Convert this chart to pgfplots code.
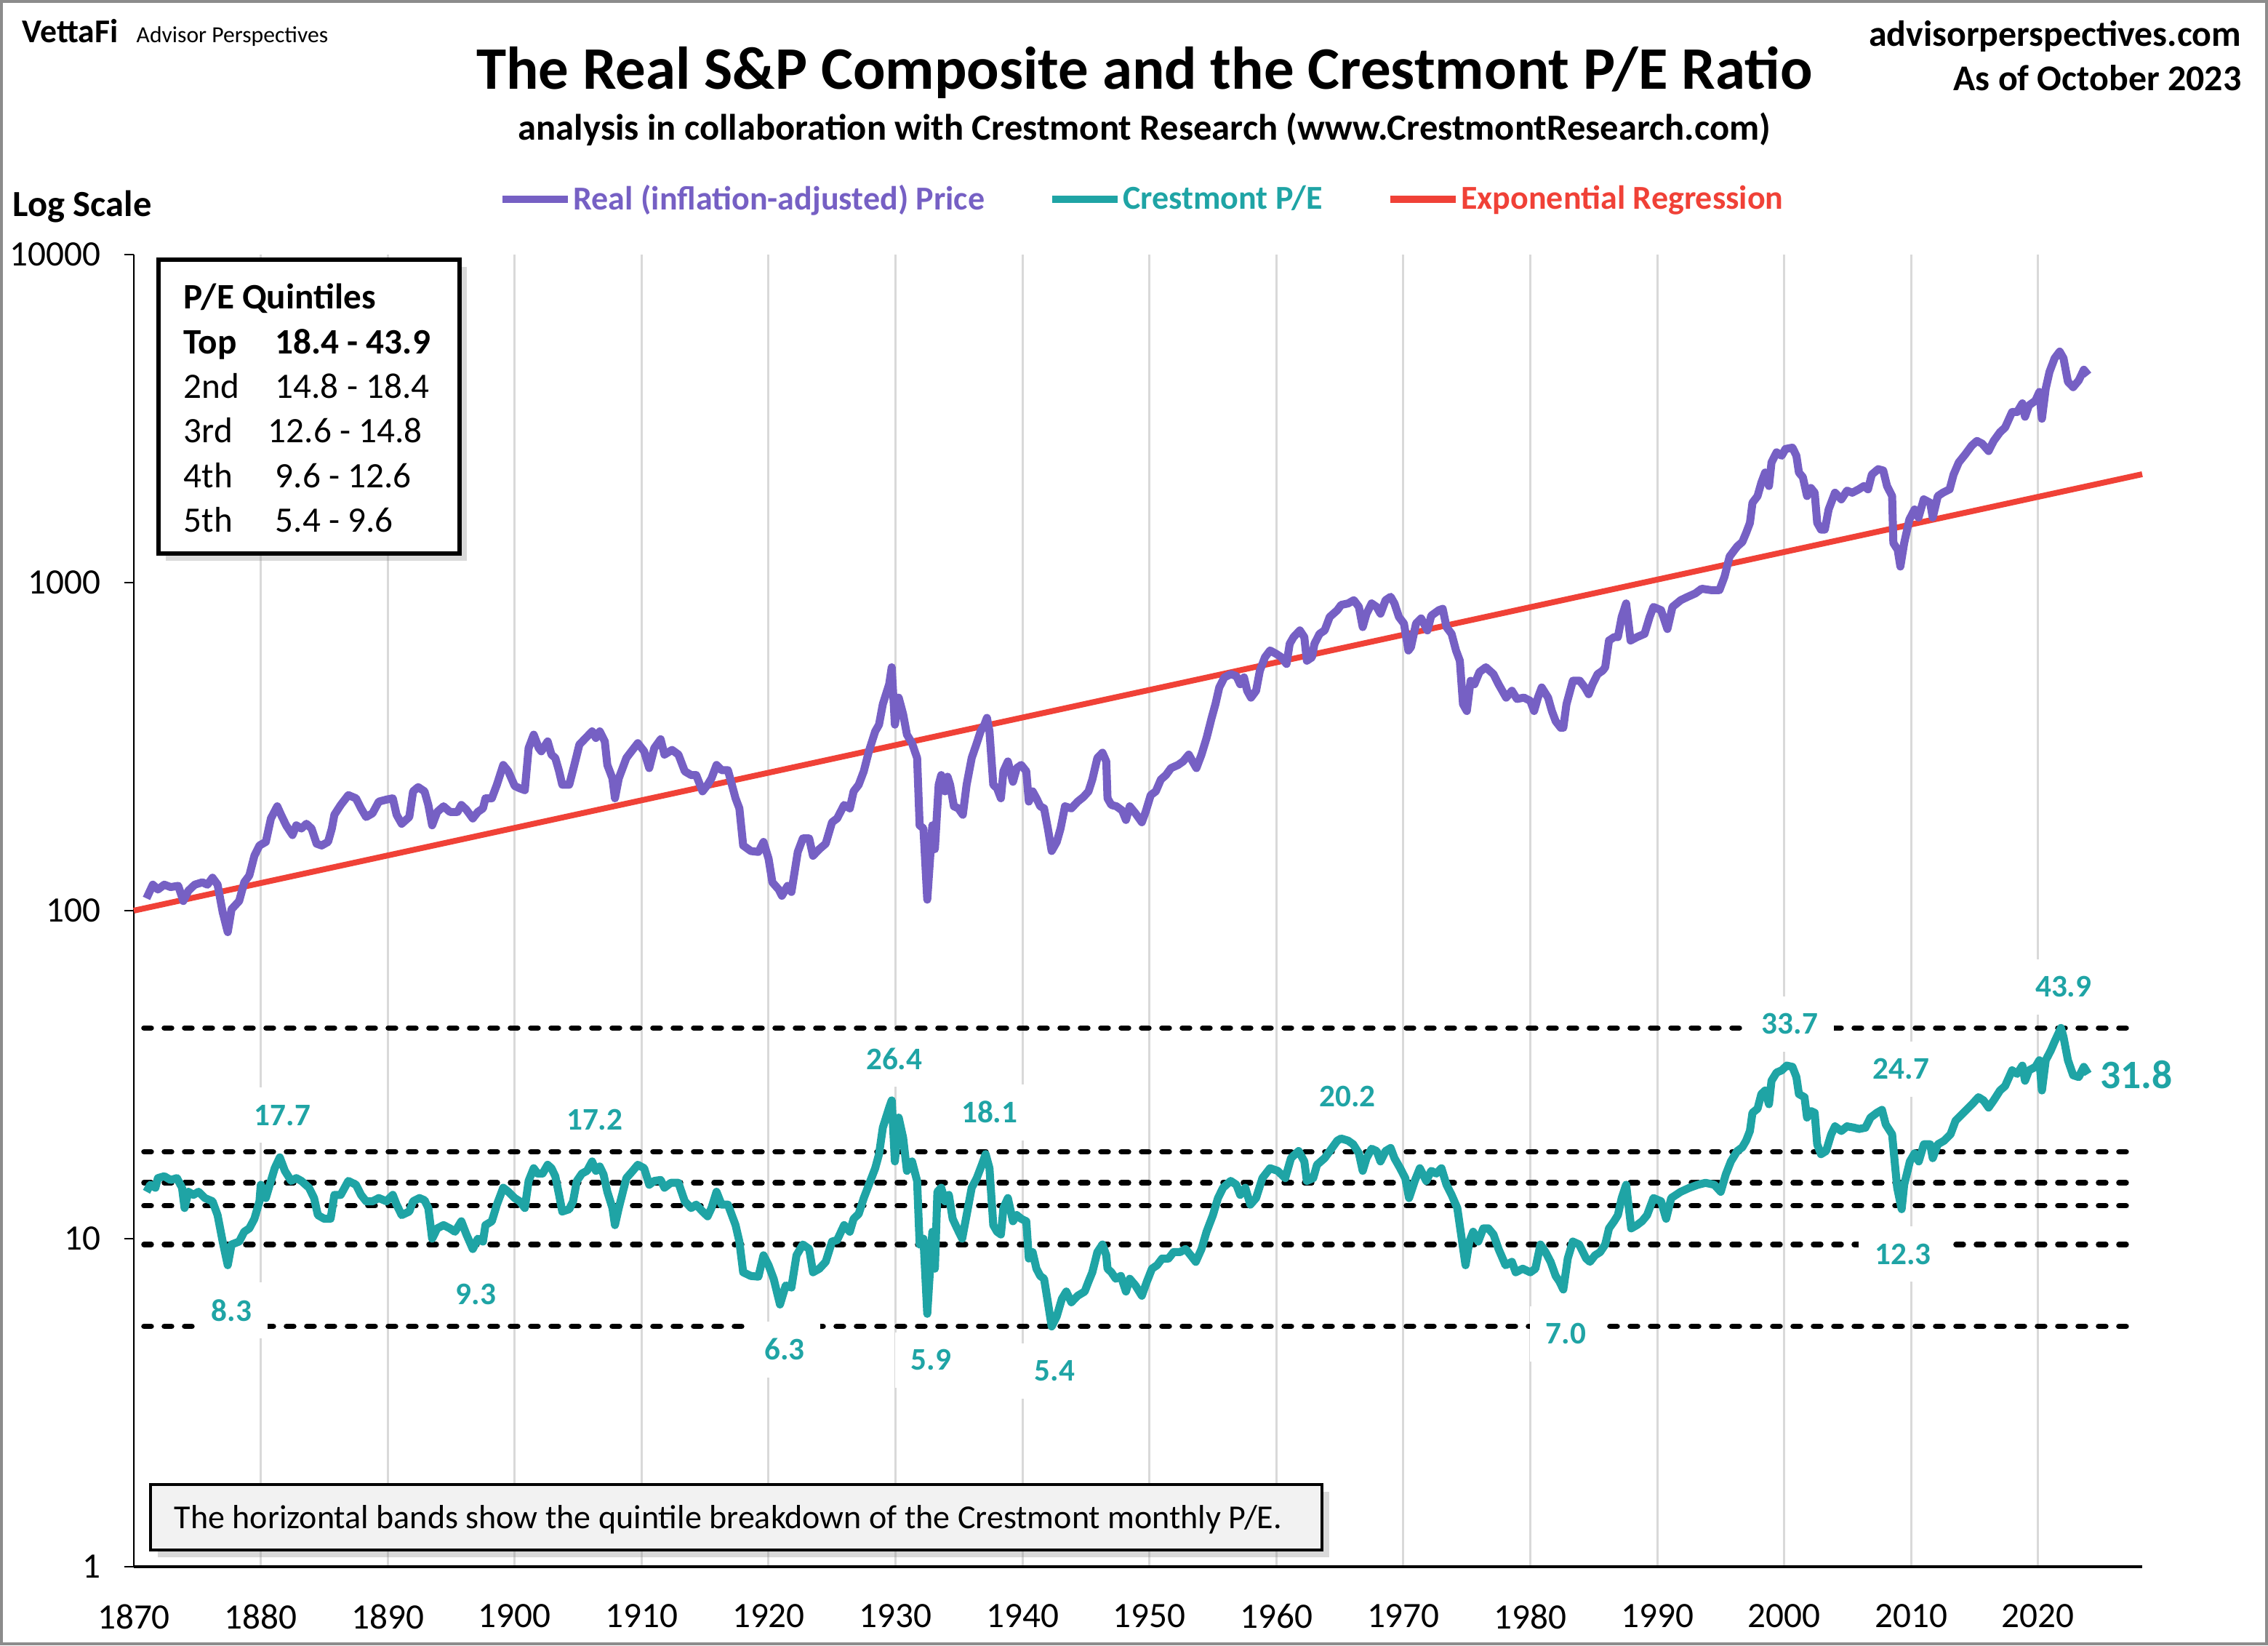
\documentclass[border=0pt]{standalone}
\usepackage{pgfplots}
\pgfplotsset{compat=1.18}
\usepackage{fontspec}
\setmainfont{Carlito}
\usetikzlibrary{shadows}
\definecolor{pur}{RGB}{118,96,196}
\definecolor{tealc}{RGB}{31,164,165}
\definecolor{redl}{RGB}{240,65,55}
\definecolor{gridc}{RGB}{217,217,217}
\definecolor{framec}{RGB}{140,140,140}
\definecolor{notefill}{RGB}{242,242,242}
\tikzset{lab/.style={fill=white, text=tealc, font=\bfseries\fontsize{12.3}{14}\selectfont, inner xsep=2.2mm, inner ysep=2.35mm}}
\tikzset{band/.style={black, line width=0.75mm, line cap=round, dash pattern=on 1.0mm off 1.8mm}}
\begin{document}
\begin{tikzpicture}
\useasboundingbox (0,0) rectangle (311.9mm,226.2mm);
\draw[framec, line width=0.4mm] (0.2mm,0.2mm) rectangle (311.7mm,226.0mm);
\begin{axis}[
  at={(18.4mm,10.8mm)}, anchor=south west,
  scale only axis, width=276.2mm, height=180.4mm,
  xmin=1870, xmax=2028.2, ymin=1, ymax=10000, ymode=log, log basis y=10,
  axis x line*=bottom, axis y line*=left,
  x axis line style={line width=0.45mm,-},
  y axis line style={line width=0.25mm,-},
  xtick={1870,1880,1890,1900,1910,1920,1930,1940,1950,1960,1970,1980,1990,2000,2010,2020},
  xticklabels={1870,1880,1890,1900,1910,1920,1930,1940,1950,1960,1970,1980,1990,2000,2010,2020},
  ytick={1,10,100,1000,10000},
  yticklabels={1,10,100,1000,10000},
  xmajorgrids, major x grid style={gridc, line width=0.3mm},
  tick align=outside, major tick length=1.3mm,
  xtick style={draw=none},
  ytick style={black, line width=0.25mm},
  /pgf/number format/assume math mode=true,
  tick label style={font=\fontsize{14}{16}\selectfont},
  xticklabel style={anchor=north, inner sep=0pt, yshift=-3.8mm},
  yticklabel style={anchor=east, inner sep=0pt, xshift=-3.2mm},
  clip=false,
  legend columns=3,
  legend style={at={(0.502,1.042)}, anchor=center, draw=none, fill=none,
    font=\bfseries\fontsize{13.1}{15}\selectfont,
    /tikz/every even column/.append style={column sep=8.5mm},
    nodes={inner sep=0.25mm}},
  legend image code/.code={\draw[#1] (0mm,0mm) -- (9mm,0mm);},
]
\addlegendimage{pur, line width=1.0mm}
\addlegendentry{\textcolor{pur}{Real (inflation-adjusted) Price}}
\addlegendimage{tealc, line width=1.0mm}
\addlegendentry{\textcolor{tealc}{Crestmont P/E}}
\addlegendimage{redl, line width=1.0mm}
\addlegendentry{\textcolor{redl}{Exponential Regression}}

% quintile bands
\addplot[band, forget plot] coordinates {(1870.8,43.9) (2027.2,43.9)};
\addplot[band, forget plot] coordinates {(1870.8,18.4) (2027.2,18.4)};
\addplot[band, forget plot] coordinates {(1870.8,14.8) (2027.2,14.8)};
\addplot[band, forget plot] coordinates {(1870.8,12.6) (2027.2,12.6)};
\addplot[band, forget plot] coordinates {(1870.8,9.6) (2027.2,9.6)};
\addplot[band, forget plot] coordinates {(1870.8,5.4) (2027.2,5.4)};

% value labels
\node[lab] at (axis cs:1881.7,23.8) {17.7};
\node[lab] at (axis cs:1877.7,6.05) {8.3};
\node[lab] at (axis cs:1896.95,6.76) {9.3};
\node[lab] at (axis cs:1906.3,23.1) {17.2};
\node[lab] at (axis cs:1921.25,4.6) {6.3};
\node[lab] at (axis cs:1929.9,35.3) {26.4};
\node[lab] at (axis cs:1932.8,4.27) {5.9};
\node[lab] at (axis cs:1937.4,24.3) {18.1};
\node[lab] at (axis cs:1942.55,3.95) {5.4};
\node[lab] at (axis cs:1965.6,27.1) {20.2};
\node[lab] at (axis cs:1982.8,5.13) {7.0};
\node[lab] at (axis cs:2000.45,45.1) {33.7};
\node[lab] at (axis cs:2009.2,32.9) {24.7};
\node[lab] at (axis cs:2009.35,8.98) {12.3};
\node[lab] at (axis cs:2022.0,58.6) {43.9};
\node[anchor=west, inner sep=0pt, text=tealc, font=\bfseries\fontsize{15.8}{18}\selectfont] at (axis cs:2024.85,31.6) {31.8};

% regression
\addplot[forget plot, redl, line width=0.8mm] coordinates {(1870,100) (2028.2,2140)};

% real price
\addplot[forget plot, pur, line width=1.1mm, line join=round] coordinates {
(1871.0,109) (1871.5,120) (1871.9,116) (1872.4,120) (1872.9,118) (1873.5,119) (1873.9,107) (1874.3,115) (1874.8,120) (1875.4,122) (1875.8,120) (1876.2,126) (1876.6,120) (1877.0,99) (1877.4,86) (1877.7,101) (1878.3,107) (1878.7,122) (1879.1,128) (1879.5,147) (1879.9,158) (1880.4,162) (1880.8,191) (1881.3,208) (1881.6,196) (1882.0,182) (1882.5,170) (1882.8,182) (1883.2,178) (1883.6,184) (1884.0,178) (1884.4,160) (1884.8,158) (1885.3,162) (1885.6,178) (1885.8,196) (1886.3,210) (1886.9,225) (1887.5,220) (1887.9,205) (1888.3,193) (1888.8,198) (1889.3,215) (1889.9,218) (1890.4,220) (1890.7,196) (1891.1,184) (1891.7,193) (1892.0,231) (1892.4,238) (1892.9,231) (1893.2,210) (1893.5,182) (1893.9,200) (1894.4,208) (1894.9,200) (1895.5,200) (1895.8,210) (1896.2,203) (1896.7,191) (1897.1,200) (1897.5,205) (1897.7,220) (1898.2,220) (1898.6,242) (1899.1,278) (1899.5,266) (1900.0,240) (1900.4,236) (1900.8,233) (1901.1,313) (1901.5,344) (1901.9,313)
(1902.1,306) (1902.6,328) (1902.9,299) (1903.2,292) (1903.5,266) (1903.75,242) (1904.3,242) (1904.7,278) (1905.1,321) (1905.6,336) (1906.1,352) (1906.4,336) (1906.7,352) (1907.1,328) (1907.3,278) (1907.7,253) (1907.9,220) (1908.2,253) (1908.8,292) (1909.2,306) (1909.7,324) (1910.2,306) (1910.6,272) (1911.0,313) (1911.5,333) (1911.8,299) (1912.4,309) (1912.9,299) (1913.4,266) (1913.9,259) (1914.3,259) (1914.8,231) (1915.2,242) (1915.5,253) (1915.9,278) (1916.3,268) (1916.8,268) (1917.4,220) (1917.7,205) (1918.0,158) (1918.6,152) (1919.2,151) (1919.6,162) (1920.0,144) (1920.3,122) (1920.8,116) (1921.05,111) (1921.5,119) (1921.8,114) (1922.3,151) (1922.7,166) (1923.2,166) (1923.5,147) (1924.0,154) (1924.5,160) (1925.0,186) (1925.4,191) (1925.95,210) (1926.4,205) (1926.7,231) (1927.1,242) (1927.5,266) (1927.9,306) (1928.4,352) (1928.7,369) (1929.0,426) (1929.5,490) (1929.7,552) (1929.95,369) (1930.25,446) (1930.6,397) (1930.9,344) (1931.3,324) (1931.7,292) (1931.9,182) (1932.2,178) (1932.5,108)
(1932.9,182) (1933.1,154) (1933.4,242) (1933.6,259) (1933.9,231) (1934.1,256) (1934.3,242) (1934.6,208) (1934.95,205) (1935.3,196) (1935.6,242) (1936.0,292) (1936.4,324) (1936.7,352) (1937.0,369) (1937.2,387) (1937.4,352) (1937.7,242) (1938.0,236) (1938.3,220) (1938.5,266) (1938.85,285) (1939.25,247) (1939.55,272) (1939.9,278) (1940.3,266) (1940.5,215) (1940.8,231) (1941.1,220) (1941.4,208) (1941.7,205) (1942.0,178) (1942.3,152) (1942.7,162) (1943.0,178) (1943.35,208) (1943.85,205) (1944.35,215) (1944.8,222) (1945.2,231) (1945.5,251) (1945.9,292) (1946.3,303) (1946.6,285) (1946.7,220) (1947.0,210) (1947.4,208) (1947.85,202) (1948.15,189) (1948.45,208) (1948.9,198) (1949.4,186) (1949.7,200) (1950.1,225) (1950.5,231) (1950.9,251) (1951.3,259) (1951.7,272) (1952.25,278) (1952.65,285) (1953.1,299) (1953.4,285) (1953.7,272) (1954.1,299) (1954.5,336) (1954.9,387) (1955.2,426) (1955.5,479) (1955.9,514) (1956.4,526) (1956.85,519) (1957.15,490) (1957.45,514) (1957.7,468) (1958.0,446) (1958.4,468) (1958.7,539) (1959.1,592) (1959.5,621) (1960.0,606) (1960.4,592) (1960.8,565) (1961.05,651) (1961.35,682) (1961.85,715) (1962.2,682) (1962.4,578) (1962.8,592) (1963.0,651) (1963.4,698) (1963.8,715) (1964.2,786) (1964.8,824)
(1965.1,855) (1965.65,864) (1966.1,884) (1966.5,843) (1966.8,732) (1967.1,804) (1967.5,864) (1967.9,843) (1968.2,804) (1968.6,884) (1969.0,905) (1969.3,864) (1969.65,786) (1970.05,750) (1970.4,621) (1970.6,636) (1971.0,750) (1971.4,778) (1971.9,715) (1972.2,793) (1972.8,824) (1973.1,832) (1973.4,732) (1973.8,698) (1974.15,621) (1974.45,578) (1974.7,426) (1975.0,406) (1975.3,502) (1975.6,490) (1976.0,534) (1976.5,552) (1977.1,526) (1977.5,490) (1978.1,446) (1978.55,468) (1978.95,442) (1979.5,446) (1980.0,436) (1980.3,406) (1980.6,446) (1980.9,479) (1981.4,446) (1981.7,406) (1982.0,378) (1982.4,361) (1982.6,361) (1982.85,426) (1983.35,502) (1983.9,502) (1984.3,479) (1984.6,457) (1984.9,490) (1985.3,526) (1985.7,539) (1985.9,552) (1986.2,666) (1986.6,682) (1986.9,682) (1987.2,786) (1987.55,864) (1987.9,666) (1988.4,682) (1989.0,698) (1989.4,786) (1989.7,843) (1990.3,824) (1990.8,722) (1991.2,843) (1991.85,884) (1992.4,905) (1993.0,927) (1993.5,958) (1994.2,949) (1994.9,949) (1995.3,1043) (1995.7,1201) (1996.3,1289)
(1996.7,1330) (1997.0,1417) (1997.3,1521) (1997.5,1751) (1997.9,1836) (1998.2,2017) (1998.5,2166) (1998.8,1970) (1999.0,2324) (1999.4,2495) (1999.8,2437) (2000.1,2555) (2000.65,2579) (2000.96,2437) (2001.16,2166) (2001.47,2095) (2001.8,1836) (2002.1,1943) (2002.4,1880) (2002.6,1521) (2002.9,1451) (2003.2,1451) (2003.5,1671) (2004.0,1880) (2004.5,1794) (2004.95,1907) (2005.36,1880) (2005.87,1925) (2006.28,1970) (2006.6,1925) (2006.9,2135) (2007.4,2217) (2007.8,2196) (2008.1,1970) (2008.5,1836) (2008.6,1320) (2008.94,1259) (2009.15,1119) (2009.45,1320) (2009.86,1557) (2010.27,1671) (2010.58,1579) (2010.99,1794) (2011.5,1751) (2011.7,1579) (2012.1,1836) (2012.5,1880) (2013.03,1925) (2013.34,2135) (2013.75,2324) (2014.26,2460) (2014.77,2616) (2015.18,2703) (2015.59,2653) (2016.1,2518) (2016.5,2703) (2017.0,2874) (2017.4,2970) (2017.95,3311) (2018.35,3311) (2018.76,3520) (2018.97,3203) (2019.28,3470) (2019.79,3586) (2020.1,3814) (2020.3,3158) (2020.6,3905) (2020.9,4394) (2021.3,4828) (2021.7,5061) (2022.0,4828) (2022.35,4094) (2022.76,3943) (2023.2,4133) (2023.6,4456) (2023.94,4291)
};

% Crestmont P/E
\addplot[forget plot, tealc, line width=1.1mm, line join=round] coordinates {
(1871.0,13.9) (1871.3,14.6) (1871.7,14.3) (1871.9,15.3) (1872.4,15.5) (1872.9,15.1) (1873.4,15.3) (1873.8,14.3) (1874.0,12.4) (1874.3,13.9) (1874.7,13.6) (1875.1,13.9) (1875.6,13.3) (1876.2,13.0) (1876.6,11.8) (1877.0,9.8) (1877.4,8.3) (1877.7,9.6) (1878.3,9.8) (1878.7,10.5) (1879.1,10.75) (1879.5,11.5) (1879.9,13.0) (1880.0,14.6) (1880.4,13.3) (1880.8,15.0) (1881.1,16.4) (1881.5,17.7) (1881.9,16.1) (1882.4,15.0) (1882.8,15.3) (1883.2,15.0) (1883.8,14.3) (1884.2,13.3) (1884.5,11.8) (1885.0,11.5) (1885.5,11.5) (1885.8,13.6) (1886.3,13.6) (1886.9,15.0) (1887.5,14.6) (1887.9,13.6) (1888.3,13.0) (1888.8,13.0) (1889.3,13.3) (1889.9,13.0) (1890.4,13.6) (1890.7,12.7) (1891.1,11.8) (1891.7,12.1) (1892.0,13.0) (1892.5,13.3) (1892.9,13.1) (1893.2,12.4) (1893.5,10.0) (1893.9,10.75) (1894.4,11.0) (1894.9,10.75) (1895.3,10.5) (1895.8,11.3) (1896.2,10.3) (1896.7,9.3) (1897.1,10.0) (1897.5,9.8) (1897.7,11.0) (1898.2,11.3) (1898.6,12.7) (1899.1,14.3) (1899.5,13.9) (1900.0,13.3) (1900.4,13.0) (1900.8,12.4) (1901.1,15.0) (1901.5,16.4) (1901.8,15.8)
(1902.2,15.8) (1902.6,16.8) (1902.9,16.4) (1903.2,15.5) (1903.5,13.6) (1903.75,12.1) (1904.3,12.3) (1904.6,13.0) (1904.9,15.0) (1905.3,15.8) (1905.7,16.1) (1906.1,17.2) (1906.4,16.1) (1906.7,16.6) (1907.0,15.7) (1907.3,13.9) (1907.7,12.4) (1907.9,11.0) (1908.2,12.4) (1908.8,15.3) (1909.3,16.1) (1909.7,16.8) (1910.2,16.4) (1910.6,14.6) (1911.0,15.0) (1911.5,15.1) (1911.8,14.3) (1912.3,14.8) (1912.9,14.8) (1913.4,13.0) (1913.9,12.4) (1914.3,12.7) (1914.8,12.1) (1915.2,11.7) (1915.5,12.4) (1915.9,13.9) (1916.3,12.7) (1916.8,12.7) (1917.4,11.0) (1917.7,9.8) (1918.0,7.9) (1918.6,7.7) (1919.2,7.66) (1919.6,8.9) (1920.0,8.3) (1920.4,7.55) (1920.9,6.3) (1921.35,7.2) (1921.8,7.1) (1922.2,8.9) (1922.7,9.6) (1923.2,9.3) (1923.5,7.9) (1924.0,8.1) (1924.5,8.5) (1925.0,9.8) (1925.4,9.9) (1925.95,11.0) (1926.4,10.5) (1926.7,11.5) (1927.1,11.9) (1927.5,13.3) (1927.9,14.6) (1928.4,16.4) (1928.7,18.1) (1929.0,21.8) (1929.5,25.1) (1929.7,26.4) (1929.95,17.2) (1930.25,23.4) (1930.6,20.3) (1930.9,16.1) (1931.3,17.2) (1931.7,15.0) (1931.9,9.6) (1932.2,10.0) (1932.5,5.9)
(1932.9,10.5) (1933.1,8.1) (1933.3,13.9) (1933.6,14.3) (1933.9,13.0) (1934.2,13.6) (1934.5,11.5) (1934.85,10.75) (1935.25,10.0) (1935.6,11.8) (1936.0,14.3) (1936.4,15.3) (1936.8,16.8) (1937.1,18.1) (1937.4,16.4) (1937.7,11.0) (1938.0,10.5) (1938.3,10.3) (1938.5,12.4) (1938.85,13.3) (1939.25,11.3) (1939.55,11.8) (1939.9,11.5) (1940.3,11.3) (1940.5,8.7) (1940.8,9.1) (1941.1,8.1) (1941.4,7.7) (1941.7,7.55) (1942.0,6.4) (1942.3,5.4) (1942.7,5.8) (1943.1,6.55) (1943.45,6.9) (1943.85,6.4) (1944.35,6.7) (1944.9,6.9) (1945.2,7.4) (1945.5,7.9) (1945.9,9.1) (1946.3,9.6) (1946.6,8.9) (1946.7,8.1) (1947.0,7.9) (1947.35,7.55) (1947.75,7.7) (1948.15,6.9) (1948.45,7.55) (1948.9,7.2) (1949.4,6.7) (1949.8,7.4) (1950.2,8.1) (1950.6,8.3) (1951.0,8.7) (1951.5,8.7) (1951.9,9.1) (1952.4,9.1) (1952.85,9.3) (1953.25,8.9) (1953.65,8.5) (1954.1,9.3) (1954.5,10.5) (1955.0,11.8) (1955.4,13.3) (1955.8,14.3) (1956.4,15.0) (1956.85,14.6) (1957.15,13.6) (1957.55,14.3) (1957.95,12.7) (1958.4,13.3) (1958.9,15.3) (1959.5,16.4) (1960.1,16.1) (1960.7,15.3) (1961.15,17.6) (1961.75,18.5) (1962.2,17.2) (1962.4,15.0) (1962.9,15.3) (1963.2,16.8) (1963.8,17.6) (1964.8,19.9)
(1965.1,20.2) (1965.65,19.9) (1966.05,19.4) (1966.5,18.2) (1966.8,16.1) (1967.1,17.6) (1967.5,18.8) (1967.9,18.5) (1968.2,17.2) (1968.6,18.5) (1969.0,18.9) (1969.3,17.6) (1969.75,16.4) (1970.15,15.3) (1970.45,13.3) (1970.9,15.0) (1971.3,16.4) (1971.8,15.0) (1972.2,16.1) (1972.6,15.8) (1973.0,16.4) (1973.4,14.6) (1973.8,13.6) (1974.25,12.4) (1974.55,10.3) (1974.9,8.3) (1975.2,9.8) (1975.5,10.5) (1975.9,9.8) (1976.3,10.75) (1976.7,10.75) (1977.1,10.3) (1977.5,9.3) (1978.05,8.3) (1978.55,8.5) (1978.85,7.9) (1979.4,8.1) (1980.0,7.9) (1980.4,8.1) (1980.8,9.6) (1981.2,9.1) (1981.6,8.5) (1982.0,7.7) (1982.3,7.4) (1982.6,7.0) (1982.95,8.7) (1983.35,9.8) (1983.85,9.6) (1984.4,8.7) (1984.7,8.5) (1985.1,8.9) (1985.5,9.1) (1985.9,9.6) (1986.2,10.75) (1986.6,11.3) (1986.9,11.8) (1987.2,13.3) (1987.55,14.6) (1987.95,10.75) (1988.4,11.0) (1988.8,11.3) (1989.2,11.8) (1989.7,13.3) (1990.3,13.0) (1990.7,11.5) (1991.1,13.3) (1991.85,13.9) (1992.55,14.3) (1993.2,14.6) (1993.8,14.8) (1994.5,14.6) (1995.0,13.9) (1995.4,15.7) (1995.8,17.2) (1996.3,18.5)
(1996.7,19.0) (1997.0,19.9) (1997.3,21.3) (1997.5,24.2) (1997.9,24.9) (1998.2,27.6) (1998.5,28.3) (1998.8,25.7) (1999.0,30.3) (1999.4,32.1) (1999.8,32.6) (2000.2,33.7) (2000.65,33.4) (2000.96,31.1) (2001.16,27.6) (2001.6,27.0) (2001.8,23.4) (2002.1,24.5) (2002.4,24.2) (2002.6,19.4) (2002.9,18.1) (2003.3,18.5) (2003.7,20.8) (2004.0,22.0) (2004.5,21.3) (2004.95,22.0) (2005.5,21.8) (2005.9,21.6) (2006.4,21.8) (2006.8,23.4) (2007.3,24.2) (2007.7,24.7) (2008.0,22.3) (2008.5,20.8) (2008.7,17.2) (2008.9,14.3) (2009.25,12.3) (2009.45,14.6) (2009.9,17.2) (2010.27,18.2) (2010.6,17.2) (2011.0,19.4) (2011.5,19.4) (2011.7,17.6) (2012.1,19.4) (2012.6,19.9) (2013.1,20.8) (2013.5,22.9) (2014.26,24.5) (2014.8,25.7) (2015.3,27.0) (2015.7,26.4) (2016.1,25.1) (2016.5,26.4) (2017.0,28.3) (2017.4,29.2) (2017.95,32.6) (2018.35,31.8) (2018.76,33.7) (2018.97,30.3) (2019.28,32.6) (2019.79,33.4) (2020.1,35.0) (2020.3,28.3) (2020.6,35.0) (2021.0,37.5) (2021.3,39.9) (2021.8,43.9) (2022.0,41.2) (2022.35,35.0) (2022.76,31.5) (2023.2,31.1) (2023.6,33.4) (2023.94,31.8)
};
\end{axis}

% header texts
\node[anchor=base west, inner sep=0pt, font=\bfseries\fontsize{13}{15}\selectfont] at (3.0mm,220.3mm) {VettaFi};
\node[anchor=base west, inner sep=0pt, font=\fontsize{9}{11}\selectfont] at (18.7mm,220.3mm) {Advisor Perspectives};
\node[anchor=base, inner sep=0pt, font=\bfseries\fontsize{23.6}{28}\selectfont] at (157.4mm,213.9mm) {The Real S\&P Composite and the Crestmont P/E Ratio};
\node[anchor=base, inner sep=0pt, font=\bfseries\fontsize{14.4}{17}\selectfont] at (157.4mm,206.9mm) {analysis in collaboration with Crestmont Research (www.CrestmontResearch.com)};
\node[anchor=base east, inner sep=0pt, font=\bfseries\fontsize{14.2}{17}\selectfont] at (308.3mm,219.8mm) {advisorperspectives.com};
\node[anchor=base east, inner sep=0pt, font=\bfseries\fontsize{14.2}{17}\selectfont] at (308.3mm,213.7mm) {As of October 2023};
\node[anchor=base west, inner sep=0pt, font=\bfseries\fontsize{14.4}{17}\selectfont] at (1.7mm,196.4mm) {Log Scale};

% quintile box
\node[draw=black, line width=0.6mm, fill=white, minimum width=41.4mm, minimum height=40.4mm, anchor=south west, inner sep=0pt,
  drop shadow={shadow xshift=1.0mm, shadow yshift=-1.0mm, opacity=0.3}] at (21.5mm,149.8mm) {};
\begin{scope}[every node/.style={anchor=base west, inner sep=0pt, font=\fontsize{14}{17}\selectfont}]
\node[font=\bfseries\fontsize{14}{17}\selectfont] at (25.2mm,183.7mm) {P/E Quintiles};
\node[font=\bfseries\fontsize{14}{17}\selectfont] at (25.2mm,177.5mm) {Top};
\node[font=\bfseries\fontsize{14}{17}\selectfont] at (37.8mm,177.5mm) {18.4 - 43.9};
\node at (25.2mm,171.4mm) {2nd};
\node at (37.8mm,171.4mm) {14.8 - 18.4};
\node at (25.2mm,165.3mm) {3rd};
\node at (36.8mm,165.3mm) {12.6 - 14.8};
\node at (25.2mm,159.1mm) {4th};
\node at (37.8mm,159.1mm) {9.6 - 12.6};
\node at (25.2mm,153.0mm) {5th};
\node at (37.8mm,153.0mm) {5.4 - 9.6};
\end{scope}

% note box
\node[draw=black, line width=0.35mm, fill=notefill, minimum width=161.1mm, minimum height=9.0mm, anchor=south west, inner sep=0pt,
  drop shadow={shadow xshift=1.0mm, shadow yshift=-1.0mm, opacity=0.3}] at (20.5mm,12.9mm) {};
\node[anchor=base west, inner sep=0pt, font=\fontsize{13.1}{16}\selectfont] at (23.9mm,16.0mm) {The horizontal bands show the quintile breakdown of the Crestmont monthly P/E.};
\end{tikzpicture}
\end{document}
